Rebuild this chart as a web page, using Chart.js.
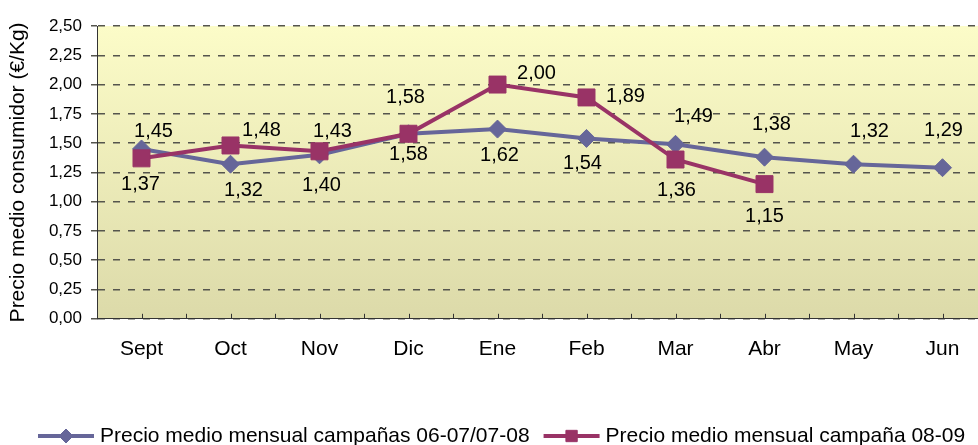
<!DOCTYPE html>
<html>
<head>
<meta charset="utf-8">
<script src="https://cdn.jsdelivr.net/npm/chart.js@4.4.0/dist/chart.umd.min.js"></script>
<style>
  html, body { margin: 0; padding: 0; background: #fff; overflow: hidden; }
  #wrap { width: 978px; height: 445px; overflow: hidden; position: relative; }
  #myChart { position: absolute; left: 0; top: 0; }
</style>
</head>
<body>
<div id="wrap"><canvas id="myChart" width="1000" height="445"></canvas></div>
<script>
  const months = ['Sept', 'Oct', 'Nov', 'Dic', 'Ene', 'Feb', 'Mar', 'Abr', 'May', 'Jun'];
  const precio0608 = [1.45, 1.32, 1.40, 1.58, 1.62, 1.54, 1.49, 1.38, 1.32, 1.29];
  const precio0809 = [1.37, 1.48, 1.43, 1.58, 2.00, 1.89, 1.36, 1.15, null, null];
  const seriesNames = ['Precio medio mensual campañas 06-07/07-08', 'Precio medio mensual campaña 08-09'];

  // where each value label sits relative to its point (px)
  const labelPos0608 = [[12, -17], [13, 26], [2, 31], [0, 21], [2, 26], [-4, 25], [18, -28], [7, -33], [16, -33], [1, -37]];
  const labelPos0809 = [[-1, 26], [31, -15], [13, -20], [-3, -36], [39, -11], [39, -1], [1, 31], [0, 32]];

  const FONT = '"Liberation Sans", Arial, sans-serif';
  const fmt = v => v.toFixed(2).replace('.', ',');

  const bgPlugin = {
    id: 'bg',
    beforeDraw(chart) {
      const {ctx, chartArea: a} = chart;
      const g = ctx.createLinearGradient(0, a.top, 0, a.bottom);
      g.addColorStop(0, '#fcfcc8');
      g.addColorStop(1, '#dcdaa9');
      ctx.save();
      ctx.fillStyle = g;
      ctx.fillRect(a.left, a.top, a.right - a.left, a.bottom - a.top);
      ctx.restore();
    }
  };

  const labelsPlugin = {
    id: 'valueLabels',
    afterDatasetsDraw(chart) {
      const ctx = chart.ctx;
      const offsets = [labelPos0608, labelPos0809];
      ctx.save();
      ctx.font = '20px ' + FONT;
      ctx.fillStyle = '#000';
      ctx.textAlign = 'center';
      ctx.textBaseline = 'middle';
      chart.data.datasets.forEach((ds, i) => {
        chart.getDatasetMeta(i).data.forEach((pt, j) => {
          const v = ds.data[j];
          if (v == null) return;
          const o = offsets[i][j];
          ctx.fillText(fmt(v), pt.x + o[0], pt.y + o[1]);
        });
      });
      ctx.restore();
    }
  };

  const xTicksPlugin = {
    id: 'xTickMarks',
    afterDraw(chart) {
      const {ctx, scales: {x}} = chart;
      const half = (x.getPixelForValue(1) - x.getPixelForValue(0)) / 2;
      const b = chart.chartArea.bottom;
      ctx.save();
      ctx.strokeStyle = '#333';
      ctx.lineWidth = 1;
      ctx.beginPath();
      for (let i = 0; i < months.length; i++) {
        const px = x.getPixelForValue(i);
        [px, px + half].forEach(p => {
          const xx = Math.round(p) + 0.5;
          ctx.moveTo(xx, b - 5);
          ctx.lineTo(xx, b);
        });
      }
      ctx.stroke();
      ctx.restore();
    }
  };

  const legendPlugin = {
    id: 'bottomLegend',
    afterDraw(chart) {
      const ctx = chart.ctx;
      const y = 436;
      let x = 38;
      ctx.save();
      ctx.font = '21px ' + FONT;
      ctx.textBaseline = 'middle';
      ctx.textAlign = 'left';
      chart.data.datasets.forEach((ds, i) => {
        ctx.strokeStyle = ds.borderColor;
        ctx.lineWidth = 4;
        ctx.beginPath();
        ctx.moveTo(x, y);
        ctx.lineTo(x + 56, y);
        ctx.stroke();
        ctx.fillStyle = ds.backgroundColor;
        ctx.strokeStyle = ds.borderColor;
        ctx.lineWidth = 1;
        Chart.helpers.drawPoint(ctx, {pointStyle: ds.pointStyle, radius: ds.pointStyle === 'rect' ? 8 : 7, rotation: 0, borderWidth: 1}, x + 28, y);
        ctx.fillStyle = '#000';
        ctx.fillText(seriesNames[i], x + 62, y);
        x += 62 + ctx.measureText(seriesNames[i]).width + 14;
      });
      ctx.restore();
    }
  };

  const config = {
    type: 'line',
    data: {
      labels: months,
      datasets: [{
        label: seriesNames[0],
        data: precio0608,
        borderColor: '#666699',
        backgroundColor: '#666699',
        borderWidth: 4,
        pointStyle: 'rectRot',
        pointRadius: 9,
        pointBorderWidth: 1,
        tension: 0,
        order: 1
      }, {
        label: seriesNames[1],
        data: precio0809,
        borderColor: '#993366',
        backgroundColor: '#993366',
        borderWidth: 4,
        pointStyle: 'rect',
        pointRadius: 12,
        pointBorderWidth: 1,
        tension: 0,
        spanGaps: false,
        order: 0
      }]
    },
    options: {
      responsive: false,
      animation: false,
      layout: { padding: { left: 0, right: 9, top: 26, bottom: 65 } },
      plugins: { legend: { display: false }, tooltip: { enabled: false } },
      scales: {
        x: {
          offset: true,
          grid: { display: true, drawOnChartArea: false, drawTicks: false },
          border: { display: true, color: '#333', width: 1 },
          ticks: { color: '#000', font: { family: FONT, size: 21 }, padding: 18, maxRotation: 0 }
        },
        y: {
          min: 0,
          max: 2.5,
          afterFit: s => { s.width = 97; },
          ticks: { stepSize: 0.25, color: '#000', font: { family: FONT, size: 17 }, padding: 9, callback: v => fmt(v) },
          grid: { color: '#55554d', lineWidth: 1.5, tickLength: 6 },
          border: { display: true, color: '#333', width: 1, dash: [7, 8] },
          title: { display: true, text: 'Precio medio consumidor (€/Kg)', color: '#000', font: { family: FONT, size: 21 }, padding: { top: 6, bottom: 0 } }
        }
      }
    },
    plugins: [bgPlugin, labelsPlugin, xTicksPlugin, legendPlugin]
  };

  const myChart = new Chart(document.getElementById('myChart'), config);
</script>
</body>
</html>
